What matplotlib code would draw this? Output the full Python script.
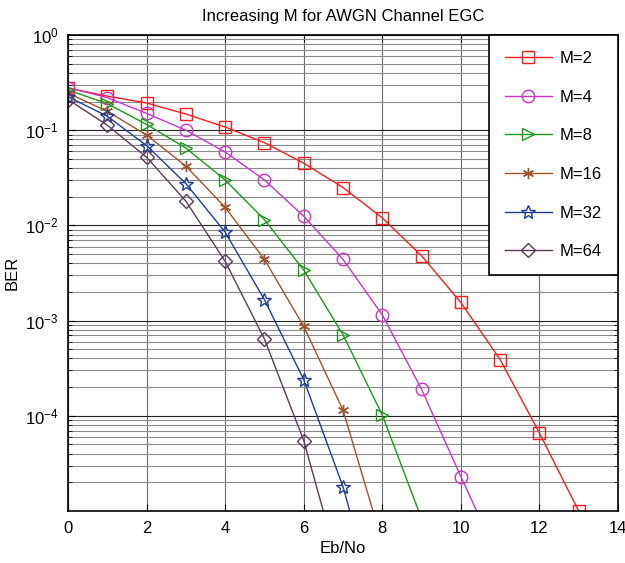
import matplotlib
matplotlib.use("Agg")
import matplotlib.pyplot as plt
from matplotlib.ticker import LogLocator, NullFormatter, FixedLocator

plt.rcParams['font.family'] = ['Liberation Sans', 'DejaVu Sans']
plt.rcParams['mathtext.fontset'] = 'custom'
plt.rcParams['mathtext.rm'] = 'Liberation Sans'
plt.rcParams['mathtext.it'] = 'Liberation Sans:italic'

title = "Increasing M for AWGN Channel EGC"
xlabel = "Eb/No"
ylabel = "BER"

labels = ["M=2", "M=4", "M=8", "M=16", "M=32", "M=64"]
x_m2 = [0, 1, 2, 3, 4, 5, 6, 7, 8, 9, 10, 11, 12, 13]
ber_m2 = [0.277, 0.228, 0.193, 0.148, 0.108, 0.074, 0.045, 0.025, 0.012, 0.0048, 0.00155, 3.9e-4, 6.6e-5, 1.0e-5]
x_m4 = [0, 1, 2, 3, 4, 5, 6, 7, 8, 9, 10, 11]
ber_m4 = [0.28, 0.22, 0.15, 0.10, 0.059, 0.030, 0.0125, 0.0044, 0.00115, 1.9e-4, 2.3e-5, 2.9e-6]
x_m8 = [0, 1, 2, 3, 4, 5, 6, 7, 8, 9]
ber_m8 = [0.265, 0.19, 0.115, 0.065, 0.030, 0.0115, 0.0034, 7.1e-4, 1.02e-4, 8.3e-6]
x_m16 = [0, 1, 2, 3, 4, 5, 6, 7, 8]
ber_m16 = [0.245, 0.158, 0.089, 0.042, 0.0155, 0.0044, 8.7e-4, 1.15e-4, 4.7e-6]
x_m32 = [0, 1, 2, 3, 4, 5, 6, 7, 8]
ber_m32 = [0.225, 0.14, 0.069, 0.0275, 0.0085, 0.00166, 2.4e-4, 1.8e-5, 6e-7]
x_m64 = [0, 1, 2, 3, 4, 5, 6, 7]
ber_m64 = [0.21, 0.113, 0.052, 0.018, 0.0042, 6.4e-4, 5.5e-5, 1.8e-6]

xs = [x_m2, x_m4, x_m8, x_m16, x_m32, x_m64]
ys = [ber_m2, ber_m4, ber_m8, ber_m16, ber_m32, ber_m64]
colors = ["#ff1a1a", "#cc33cc", "#1a991a", "#a0522d", "#1f3d99", "#5c3a5c"]
markers = ["s", "o", ">", (6, 2, 0), "*", "D"]
msizes = [9, 9, 9, 8, 10, 7]

fig = plt.figure(figsize=(6.25, 5.63), dpi=100)
ax = fig.add_axes([68/625, 1-511/563, 550/625, 476/563])

for x, y, c, m, ms, lab in zip(xs, ys, colors, markers, msizes, labels):
    ax.plot(x, y, color=c, lw=1.0, marker=m, ms=ms, mfc='none', mec=c, mew=1.0, label=lab)

ax.set_yscale('log')
ax.set_xlim(0, 14)
ax.set_ylim(1.0e-5, 1)
ax.xaxis.set_major_locator(FixedLocator([0, 2, 4, 6, 8, 10, 12, 14]))
ax.yaxis.set_major_locator(FixedLocator([1e-4, 1e-3, 1e-2, 1e-1, 1e0]))
ax.yaxis.set_minor_locator(LogLocator(base=10, subs=range(2, 10), numticks=20))
ax.yaxis.set_minor_formatter(NullFormatter())

ax.grid(True, which='major', axis='y', color='#222222', lw=0.8, ls='-')
ax.grid(True, which='minor', axis='y', color='#8a8a8a', lw=0.8, ls='-')
ax.grid(True, which='major', axis='x', color='#6a6a6a', lw=0.8, ls='-')
ax.set_axisbelow(True)

ax.tick_params(which='both', direction='in', top=True, right=True, labelsize=12, pad=7)
ax.tick_params(which='major', length=5)
ax.tick_params(which='minor', length=3)
for s in ax.spines.values():
    s.set_linewidth(1.2)

ax.set_title(title, fontsize=12, pad=10)
ax.set_xlabel(xlabel, fontsize=12, labelpad=4)
ax.set_ylabel(ylabel, fontsize=12, labelpad=4)

leg = ax.legend(loc='upper right', bbox_to_anchor=(1.0, 1.0), borderaxespad=0.0,
                fontsize=12, handlelength=2.8, labelspacing=1.42, fancybox=False,
                framealpha=1, edgecolor='black', borderpad=0.95, handletextpad=0.5)
leg.get_frame().set_linewidth(1.2)

fig.savefig("out.png", dpi=100)
